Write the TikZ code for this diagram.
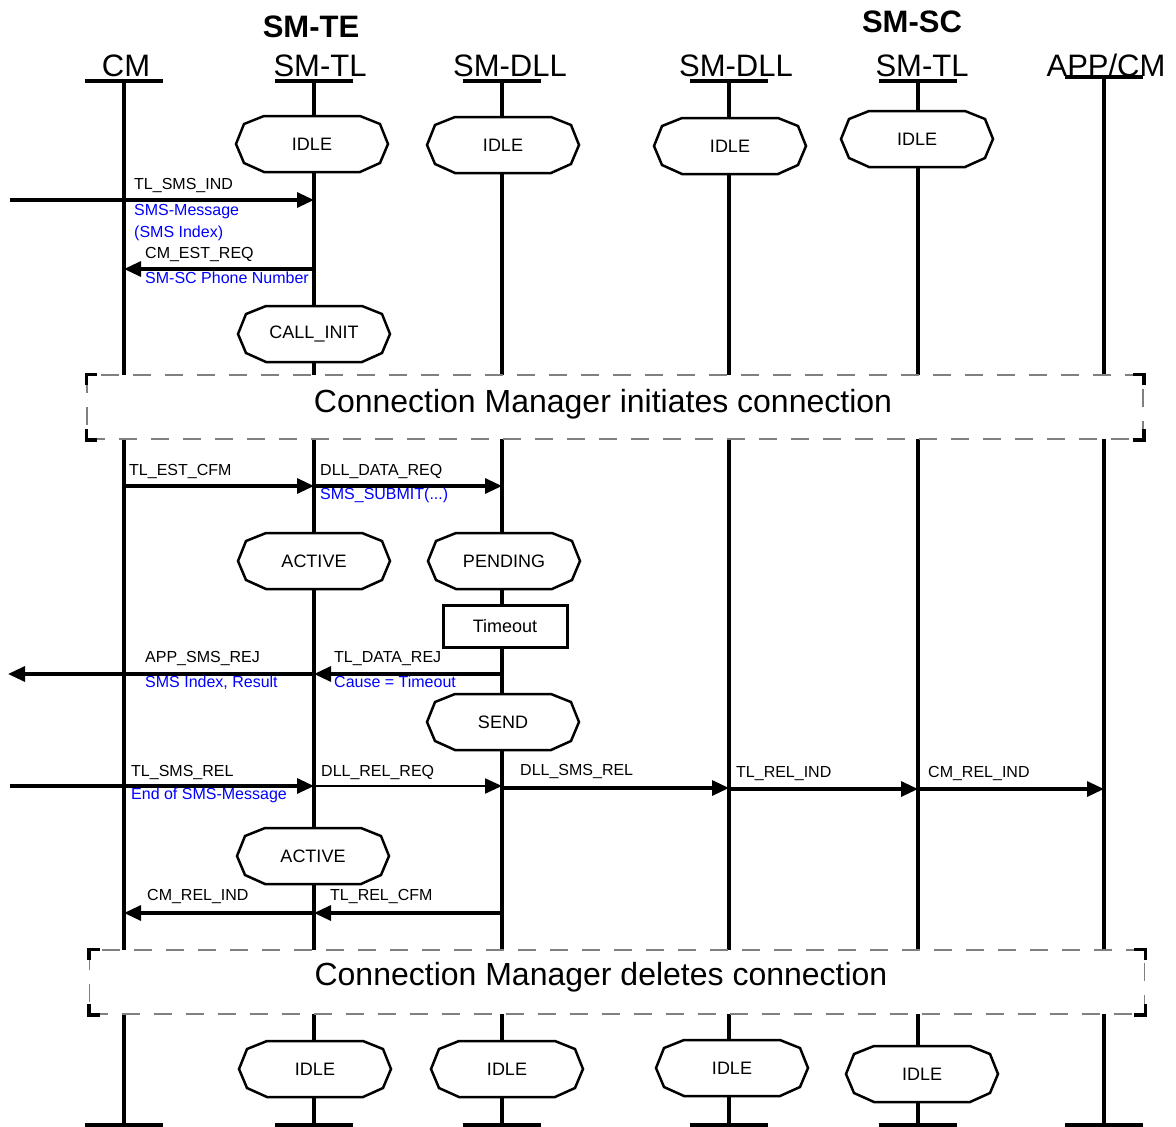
\documentclass[tikz,border=0pt]{standalone}
\usepackage{fontspec}
\setmainfont{Liberation Sans}
\usetikzlibrary{positioning, arrows.meta}
\definecolor{mblue}{RGB}{0,0,255}
\definecolor{mgrey}{RGB}{128,128,128}

\begin{document}
\begin{tikzpicture}[x=1pt, y=-1pt,
  lifeline/.style={line width=3.2pt},
  headbar/.style={line width=4pt},
  headlabel/.style={font=\fontsize{31}{36}\selectfont, inner sep=0pt, anchor=base},
  grouplabel/.style={headlabel, font=\fontsize{31}{36}\selectfont\bfseries},
  msg/.style={line width=3.2pt, -{Triangle[length=17pt, width=15pt]}},
  thinmsg/.style={msg, line width=2pt},
  msglabel/.style={font=\fontsize{16}{18}\selectfont, inner sep=0pt, anchor=base west},
  paramlabel/.style={msglabel, text=mblue},
  statelabel/.style={font=\fontsize{18}{20}\selectfont, inner sep=0pt},
  timerbox/.style={draw, line width=3pt, fill=white, minimum width=124pt, minimum height=42pt, inner sep=0pt, font=\fontsize{18}{20}\selectfont},
  banner/.style={draw=mgrey, line width=1.5pt, dash pattern=on 18pt off 14pt, fill=white, minimum height=64pt, inner sep=0pt},
  bannerlabel/.style={font=\fontsize{32}{38}\selectfont, inner sep=0pt, anchor=base},
  bracket/.style={line width=3.5pt},
  sdlstate/.pic={
    \draw[line width=2.5pt, fill=white] (-48,-28) -- (48,-28) -- (68,-20) -- (76,0) -- (68,19) -- (48,28)
      -- (-48,28) -- (-68,19) -- (-76,0) -- (-68,-20) -- cycle;
    \node[statelabel] (-text) {#1};
  }]
  \useasboundingbox (0,0) rectangle (1176,1127);

  % lifelines with head and foot bars
  \foreach \name/\xpos/\ytop in {cm/124/81, tl/314/81, dll/502/81, scdll/729/81, sctl/918/81, app/1104/77} {
    \coordinate (\name) at (\xpos,\ytop);
    \coordinate (\name-foot) at (\xpos,1125);
    \draw[lifeline] (\name) -- (\name-foot);
    \draw[headbar] ([xshift=-39pt]\name) -- ([xshift=39pt]\name);
    \draw[headbar] ([xshift=-39pt]\name-foot) -- ([xshift=39pt]\name-foot);
  }
  \node[grouplabel] (te-label) at (311,37) {SM-TE};
  \node[grouplabel] (sc-label) at (912,32) {SM-SC};
  \node[headlabel] (cm-label) at (126,76) {CM};
  \node[headlabel] (tl-label) at (320,76) {SM-TL};
  \node[headlabel] (dll-label) at (510,76) {SM-DLL};
  \node[headlabel] (scdll-label) at (736,76) {SM-DLL};
  \node[headlabel] (sctl-label) at (922,76) {SM-TL};
  \node[headlabel] (app-label) at (1106,76) {APP/CM};

  % states
  \pic (tl-idle) at (312,144) {sdlstate=IDLE};
  \pic (dll-idle) at (503,145) {sdlstate=IDLE};
  \pic (scdll-idle) at (730,146) {sdlstate=IDLE};
  \pic (sctl-idle) at (917,139) {sdlstate=IDLE};
  \pic (tl-init) at (314,334) {sdlstate=CALL\_INIT};
  \pic (tl-active) at (314,561) {sdlstate=ACTIVE};
  \pic (dll-pending) at (504,561) {sdlstate=PENDING};
  \node[timerbox] (timeout) at (505,626) {Timeout};
  \pic (dll-send) at (503,722) {sdlstate=SEND};
  \pic (tl-active2) at (313,856) {sdlstate=ACTIVE};
  \pic (tl-idle2) at (315,1069) {sdlstate=IDLE};
  \pic (dll-idle2) at (507,1069) {sdlstate=IDLE};
  \pic (scdll-idle2) at (732,1068) {sdlstate=IDLE};
  \pic (sctl-idle2) at (922,1074) {sdlstate=IDLE};

  % connection manager banners
  \node[banner, minimum width=1056pt] (init-box) at (615,407) {};
  \node[bannerlabel] (init-label) at (603,412) {Connection Manager initiates connection};
  \node[banner, minimum width=1055pt] (del-box) at (617,982) {};
  \node[bannerlabel] (del-label) at (601,985) {Connection Manager deletes connection};
  \foreach \bx in {init-box, del-box} {
    \draw[bracket] ([yshift=-11pt]\bx.north west) -- (\bx.north west) -- ([xshift=11pt]\bx.north west);
    \draw[bracket] ([yshift=11pt]\bx.south west) -- (\bx.south west) -- ([xshift=11pt]\bx.south west);
    \draw[bracket] ([yshift=-11pt]\bx.north east) -- (\bx.north east) -- ([xshift=-11pt]\bx.north east);
    \draw[bracket] ([yshift=11pt]\bx.south east) -- (\bx.south east) -- ([xshift=-11pt]\bx.south east);
  }

  % messages
  \coordinate (sms-in) at (10,200);
  \coordinate (rej-out) at (8,674);
  \coordinate (rel-in) at (10,786);
  \draw[msg] (sms-in) -- (tl |- sms-in);
  \draw[msg] (tl |- 0,269) -- (cm |- 0,269);
  \draw[msg] (cm |- 0,486) -- (tl |- 0,486);
  \draw[msg] (tl |- 0,486) -- (dll |- 0,486);
  \draw[msg] (dll |- 0,674) -- (tl |- 0,674);
  \draw[msg] (tl |- rej-out) -- (rej-out);
  \draw[msg] (rel-in) -- (tl |- rel-in);
  \draw[thinmsg] (tl |- 0,786) -- (dll |- 0,786);
  \draw[msg] (dll |- 0,788) -- (scdll |- 0,788);
  \draw[msg] (scdll |- 0,789) -- (sctl |- 0,789);
  \draw[msg] (sctl |- 0,789) -- (app |- 0,789);
  \draw[msg] (dll |- 0,913) -- (tl |- 0,913);
  \draw[msg] (tl |- 0,913) -- (cm |- 0,913);

  \node[msglabel] (sms-ind) at (134,189) {TL\_SMS\_IND};
  \node[paramlabel] (sms-ind-p1) at (134,215) {SMS-Message};
  \node[paramlabel] (sms-ind-p2) at (134,237) {(SMS Index)};
  \node[msglabel] (est-req) at (145,258) {CM\_EST\_REQ};
  \node[paramlabel] (est-req-p) at (145,283) {SM-SC Phone Number};
  \node[msglabel] (est-cfm) at (129,475) {TL\_EST\_CFM};
  \node[msglabel] (data-req) at (320,475) {DLL\_DATA\_REQ};
  \node[paramlabel] (data-req-p) at (320,499) {SMS\_SUBMIT(...)};
  \node[msglabel] (data-rej) at (334,662) {TL\_DATA\_REJ};
  \node[paramlabel] (data-rej-p) at (334,687) {Cause = Timeout};
  \node[msglabel] (app-rej) at (145,662) {APP\_SMS\_REJ};
  \node[paramlabel] (app-rej-p) at (145,687) {SMS Index, Result};
  \node[msglabel] (sms-rel) at (131,776) {TL\_SMS\_REL};
  \node[paramlabel] (sms-rel-p) at (131,799) {End of SMS-Message};
  \node[msglabel] (rel-req) at (321,776) {DLL\_REL\_REQ};
  \node[msglabel] (dll-rel) at (520,775) {DLL\_SMS\_REL};
  \node[msglabel] (rel-ind) at (736,777) {TL\_REL\_IND};
  \node[msglabel] (cm-rel-sc) at (928,777) {CM\_REL\_IND};
  \node[msglabel] (rel-cfm) at (330,900) {TL\_REL\_CFM};
  \node[msglabel] (cm-rel-te) at (147,900) {CM\_REL\_IND};
\end{tikzpicture}
\end{document}
